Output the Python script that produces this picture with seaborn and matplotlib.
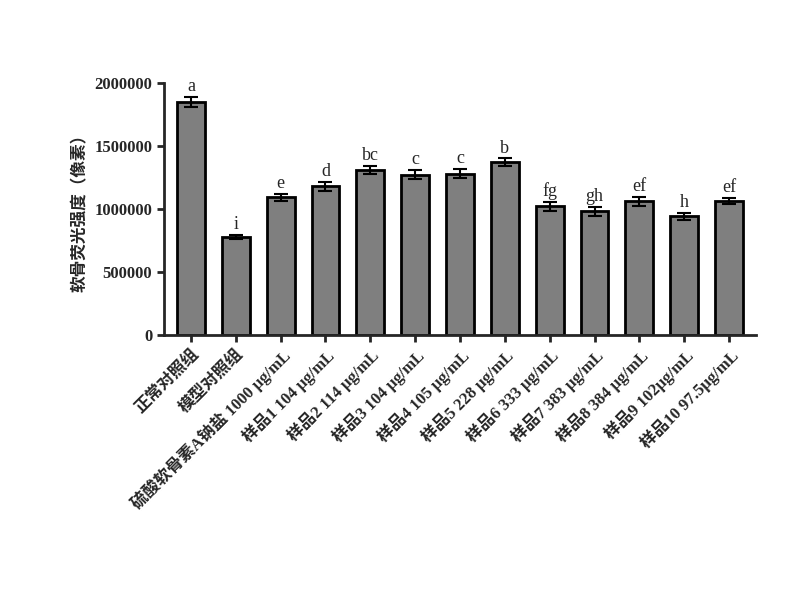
import matplotlib
matplotlib.use("Agg")
import matplotlib.pyplot as plt
import seaborn as sns
import pandas as pd

categories = ["正常对照组", "模型对照组", "硫酸软骨素A钠盐 1000 μg/mL", "样品1 104 μg/mL",
              "样品2 114 μg/mL", "样品3 104 μg/mL", "样品4 105 μg/mL", "样品5 228 μg/mL",
              "样品6 333 μg/mL", "样品7 383 μg/mL", "样品8 384 μg/mL", "样品9 102μg/mL",
              "样品10 97.5μg/mL"]
values = [1850000, 775000, 1090000, 1180000, 1310000, 1270000, 1280000, 1370000,
          1020000, 980000, 1060000, 940000, 1060000]
errors = [40000, 15000, 25000, 35000, 30000, 35000, 35000, 30000, 35000, 35000, 35000, 30000, 25000]
letters = ["a", "i", "e", "d", "bc", "c", "c", "b", "fg", "gh", "ef", "h", "ef"]

sns.set_style("ticks")
fam = ['Liberation Serif', 'Noto Sans CJK SC', 'DejaVu Sans']
plt.rcParams['font.family'] = fam
plt.rcParams['font.weight'] = 'bold'

df = pd.DataFrame({"cat": categories, "val": values})
fig = plt.figure(figsize=(8, 6), dpi=100)
ax = fig.add_axes([0.205, 0.442, 0.74, 0.42])
sns.barplot(data=df, x="cat", y="val", color="#7f7f7f", edgecolor="black",
            linewidth=2, width=0.62, ax=ax)
ax.errorbar(range(len(values)), values, yerr=errors, fmt="none", ecolor="black",
            elinewidth=1.5, capsize=5, capthick=1.5)
for i, (v, e, l) in enumerate(zip(values, errors, letters)):
    ax.text(i, v + e + 15000, l, ha="center", va="bottom", fontsize=13,
            fontweight="normal")
ax.set_ylim(0, 2000000)
ax.set_xlim(-0.6, len(values) - 0.4)
ax.set_yticks([0, 500000, 1000000, 1500000, 2000000])
ax.set_yticklabels(["0", "500000", "1000000", "1500000", "2000000"], fontsize=12)
ax.set_xticks(range(len(values)))
ax.set_xticklabels(categories, rotation=45, ha="right", rotation_mode="anchor", fontsize=12)
ax.set_xlabel("")
ax.set_ylabel("软骨荧光强度（像素）", fontsize=12, fontweight="bold")
for s in ["left", "bottom"]:
    ax.spines[s].set_linewidth(2)
sns.despine(ax=ax)
ax.tick_params(width=2, length=5)
fig.savefig("out.png", dpi=100)
